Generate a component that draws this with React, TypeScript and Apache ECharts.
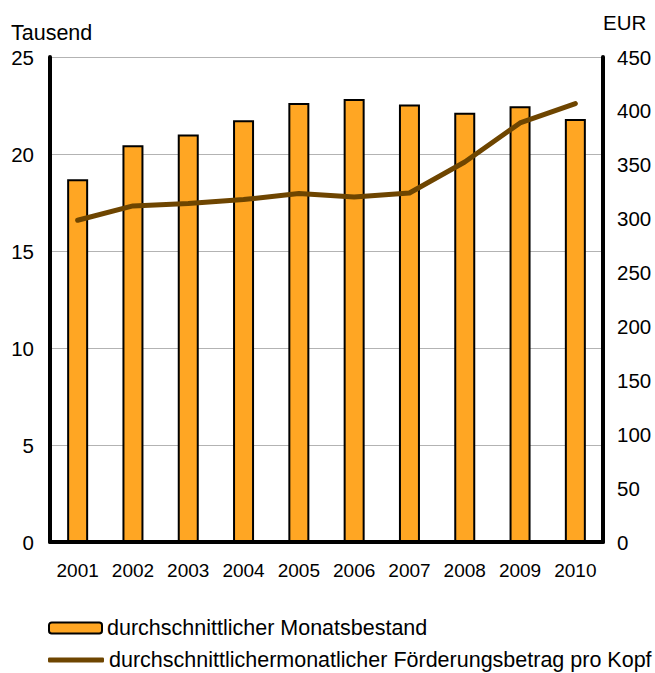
import React, { useEffect, useRef } from "react";
import * as echarts from "echarts";

const years = ["2001", "2002", "2003", "2004", "2005", "2006", "2007", "2008", "2009", "2010"];
const monatsbestand = [18.7, 20.45, 21.0, 21.74, 22.63, 22.84, 22.55, 22.13, 22.46, 21.8];
const foerderbetrag = [298.5, 311.8, 314, 317.7, 323.3, 320, 323.8, 352.6, 388.8, 406.8];
const barName = "durchschnittlicher Monatsbestand";
const lineName = "durchschnittlichermonatlicher Förderungsbetrag pro Kopf";

const FONT = "Liberation Sans, Arial, sans-serif";

export default function App() {
  const ref = useRef<HTMLDivElement>(null);
  useEffect(() => {
    document.body.style.margin = "0";
    const chart = echarts.init(ref.current!, null, { renderer: "svg" });
    chart.setOption({
      animation: false,
      backgroundColor: "#ffffff",
      textStyle: { fontFamily: FONT, color: "#000" },
      grid: { left: 50, right: 52, top: 57, bottom: 131 },
      graphic: [
        { type: "text", left: 11, top: 22, style: { text: "Tausend", font: `21.5px ${FONT}`, fill: "#000" } },
        { type: "text", left: 603, top: 12, style: { text: "EUR", font: `20.5px ${FONT}`, fill: "#000" } },
      ],
      legend: [
        {
          data: [barName],
          left: 48,
          top: 617,
          padding: 0,
          itemWidth: 53,
          itemHeight: 11,
          itemGap: 0,
          textStyle: { fontSize: 21.5, fontFamily: FONT, color: "#000" },
        },
        {
          data: [{ name: lineName, icon: "roundRect" }],
          left: 48,
          top: 649,
          padding: 0,
          itemWidth: 56,
          itemHeight: 5,
          itemGap: 0,
          textStyle: { fontSize: 21.5, fontFamily: FONT, color: "#000" },
        },
      ],
      xAxis: {
        type: "category",
        data: years,
        boundaryGap: true,
        axisLine: { lineStyle: { color: "#000", width: 4 } },
        axisTick: { show: false },
        axisLabel: { fontSize: 19, fontFamily: FONT, color: "#000", margin: 19 },
      },
      yAxis: [
        {
          type: "value",
          min: 0,
          max: 25,
          interval: 5,
          axisLine: { show: true, lineStyle: { color: "#000", width: 4 } },
          axisTick: { show: false },
          axisLabel: { fontSize: 20.5, fontFamily: FONT, color: "#000", margin: 16 },
          splitLine: { show: true, lineStyle: { color: "#b3b3b3", width: 1 } },
        },
        {
          type: "value",
          min: 0,
          max: 450,
          interval: 50,
          position: "right",
          axisLine: { show: true, lineStyle: { color: "#000", width: 4 } },
          axisTick: { show: false },
          axisLabel: { fontSize: 20.5, fontFamily: FONT, color: "#000", margin: 14 },
          splitLine: { show: false },
        },
      ],
      series: [
        {
          name: barName,
          type: "bar",
          data: monatsbestand,
          yAxisIndex: 0,
          barWidth: 21,
          itemStyle: { color: "#FFA623", borderColor: "#000", borderWidth: 2 },
        },
        {
          name: lineName,
          type: "line",
          data: foerderbetrag,
          yAxisIndex: 1,
          symbol: "none",
          lineStyle: { color: "#6E4500", width: 5, cap: "round", join: "round" },
          itemStyle: { color: "#6E4500" },
          z: 3,
        },
      ],
    });
    return () => chart.dispose();
  }, []);
  return <div ref={ref} style={{ width: 655, height: 673 }} />;
}
